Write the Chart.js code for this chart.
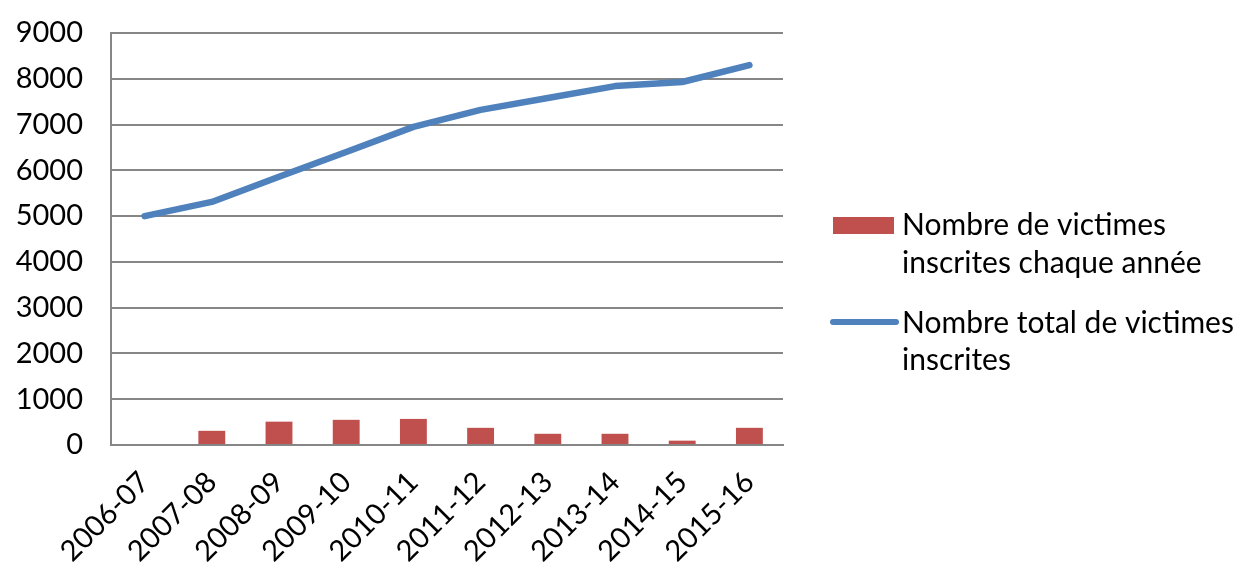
<!DOCTYPE html>
<html>
<head>
<meta charset="utf-8">
<script src="https://cdn.jsdelivr.net/npm/chart.js@4"></script>
<style>
  body { margin: 0; background: #fff; }
  #wrap { width: 1256px; height: 585px; }
</style>
</head>
<body>
<div id="wrap"><canvas id="chart" width="1256" height="585"></canvas></div>
<script>
// data
const years = ['2006-07', '2007-08', '2008-09', '2009-10', '2010-11',
               '2011-12', '2012-13', '2013-14', '2014-15', '2015-16'];
const inscritesAnnee = [0, 310, 510, 550, 570, 375, 245, 245, 95, 375];
const totalInscrites = [5000, 5310, 5860, 6400, 6950, 7320, 7580, 7840, 7930, 8300];
const yTicks = [0, 1000, 2000, 3000, 4000, 5000, 6000, 7000, 8000, 9000];

const legendBar = ['Nombre de victimes', 'inscrites chaque année'];
const legendLine = ['Nombre total de victimes', 'inscrites'];

const RED = '#C0504D';
const BLUE = '#4F81BD';
const GRID = '#868686';
const FONT = 'Lato, "Noto Sans", sans-serif';

// legend drawn by hand so the labels can wrap on two lines
const sideLegend = {
    id: 'sideLegend',
    afterDraw(chart) {
        const { ctx, chartArea } = chart;
        const x0 = chartArea.right + 50;
        ctx.save();
        ctx.font = '30px ' + FONT;
        ctx.textBaseline = 'alphabetic';
        ctx.textAlign = 'left';

        // bar entry
        ctx.fillStyle = chart.data.datasets[1].backgroundColor;
        ctx.fillRect(x0, 217, 61, 17);
        ctx.fillStyle = '#000';
        ctx.fillText(legendBar[0], x0 + 69, 235);
        ctx.fillText(legendBar[1], x0 + 69, 273);

        // line entry
        ctx.strokeStyle = chart.data.datasets[0].borderColor;
        ctx.lineWidth = 6;
        ctx.lineCap = 'round';
        ctx.beginPath();
        ctx.moveTo(x0, 322);
        ctx.lineTo(x0 + 63, 322);
        ctx.stroke();
        ctx.fillText(legendLine[0], x0 + 69, 333);
        ctx.fillText(legendLine[1], x0 + 69, 370);
        ctx.restore();
    }
};

const ctx = document.getElementById('chart').getContext('2d');
new Chart(ctx, {
    data: {
        labels: years,
        datasets: [
            {
                type: 'line',
                label: legendLine.join(' '),
                data: totalInscrites,
                borderColor: BLUE,
                borderWidth: 6.5,
                borderCapStyle: 'round',
                borderJoinStyle: 'round',
                pointRadius: 0,
                tension: 0,
                order: 0
            },
            {
                type: 'bar',
                label: legendBar.join(' '),
                data: inscritesAnnee,
                backgroundColor: RED,
                barPercentage: 0.4,
                categoryPercentage: 1,
                order: 1
            }
        ]
    },
    options: {
        responsive: false,
        animation: false,
        layout: {
            autoPadding: false,
            padding: { top: 33, right: 473, left: 0, bottom: 0 }
        },
        plugins: {
            legend: { display: false },
            tooltip: { enabled: false }
        },
        scales: {
            x: {
                grid: { display: false },
                border: { display: true, color: GRID, width: 2 },
                ticks: {
                    color: '#000',
                    font: { family: FONT, size: 29 },
                    maxRotation: 45,
                    minRotation: 45,
                    autoSkip: false,
                    padding: 12
                },
                afterFit(scale) {
                    scale.height = 140;
                    scale.paddingLeft = 0;
                    scale.paddingRight = 0;
                }
            },
            y: {
                min: 0,
                max: 9000,
                afterBuildTicks(scale) {
                    scale.ticks = yTicks.map(v => ({ value: v }));
                },
                grid: { color: GRID, lineWidth: 2, drawTicks: false },
                border: { display: true, color: GRID, width: 2 },
                ticks: {
                    color: '#000',
                    font: { family: FONT, size: 29 },
                    padding: 28,
                    callback: v => String(v)
                },
                afterFit(scale) {
                    scale.width = 111;
                    scale.paddingTop = 0;
                    scale.paddingBottom = 0;
                }
            }
        }
    },
    plugins: [sideLegend]
});
</script>
</body>
</html>
